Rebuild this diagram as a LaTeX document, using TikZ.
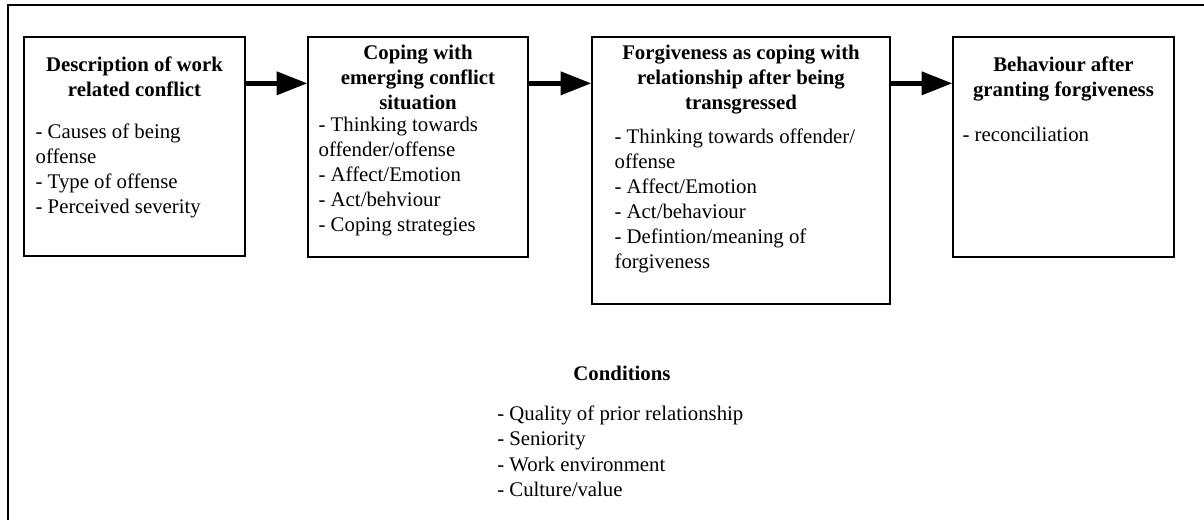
\documentclass[tikz,border=0pt]{standalone}
\usepackage{fontspec}
\setmainfont{Liberation Serif}
\usetikzlibrary{arrows.meta,calc,fit}
\tikzset{
	stage/.style={draw, line width=1pt, inner sep=0pt},
	heading/.style={font=\fontsize{15.6}{18.8}\selectfont\bfseries, align=center, inner sep=0pt, anchor=north},
	items/.style={font=\fontsize{15.6}{18.8}\selectfont, align=left, inner sep=0pt, anchor=north west},
	flow/.style={line width=3.5pt, -{Triangle[length=23pt,width=17pt]}},
}

\begin{document}
\begin{tikzpicture}[x=0.75pt,y=-0.75pt]
	\useasboundingbox (0,0) rectangle (1204,520);
	% outer frame (cut off at right and bottom)
	\draw[line width=1pt] (8,520) -- (8,5) -- (1204,5);
	
	% the four stages
	\node[stage, fit={(24,37) (245,256)}] (desc) {};
	\node[stage, fit={(308,37) (528,257)}] (cope) {};
	\node[stage, fit={(592,37) (890,304)}] (forg) {};
	\node[stage, fit={(953,37) (1174,257)}] (beh) {};
	
	\node[heading] (desctitle) at ($(desc.north)+(0,20)$) {Description of work\\related conflict};
	\node[items] (desclist) at ($(desc.north west)+(12,87)$) {- Causes of being\\offense\\- Type of offense\\- Perceived severity};
	
	\node[heading] (copetitle) at ($(cope.north)+(0,8)$) {Coping with\\emerging conflict\\situation};
	\node[items] (copelist) at ($(cope.north west)+(11,80)$) {- Thinking towards\\offender/offense\\- Affect/Emotion\\- Act/behviour\\- Coping strategies};
	
	\node[heading] (forgtitle) at ($(forg.north)+(0,8)$) {Forgiveness as coping with\\relationship after being\\transgressed};
	\node[items] (forglist) at ($(forg.north west)+(23,92)$) {- Thinking towards offender/\\offense\\- Affect/Emotion\\- Act/behaviour\\- Defintion/meaning of\\forgiveness};
	
	\node[heading] (behtitle) at ($(beh.north)+(0,20)$) {Behaviour after\\granting forgiveness};
	\node[items] (behlist) at ($(beh.north west)+(10,90)$) {- reconciliation};
	
	% arrows between stages
	\draw[flow] ($(desc.north east)+(0,47)$) -- ($(cope.north west)+(0,47)$);
	\draw[flow] ($(cope.north east)+(0,47)$) -- ($(forg.north west)+(0,47)$);
	\draw[flow] ($(forg.north east)+(0,47)$) -- ($(beh.north west)+(0,47)$);
	
	% conditions
	\node[heading] (cond) at (622,366) {Conditions};
	\node[items] (condlist) at (497,406) {- Quality of prior relationship\\- Seniority\\- Work environment\\- Culture/value};
\end{tikzpicture}
\end{document}
